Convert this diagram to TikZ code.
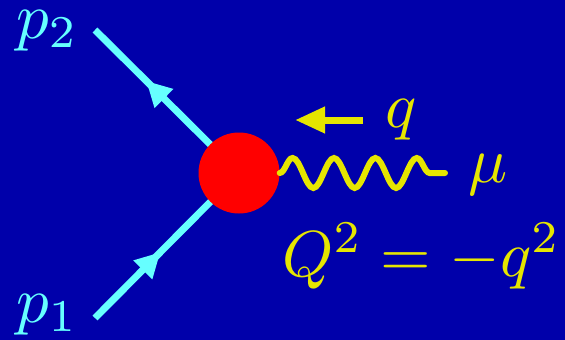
\documentclass[tikz,border=0pt]{standalone}
\usetikzlibrary{arrows.meta,decorations.markings,decorations.pathmorphing}
\definecolor{bgblue}{RGB}{0,0,170}
\definecolor{lcyan}{RGB}{102,255,255}
\definecolor{dyellow}{RGB}{230,230,0}
\begin{document}
\begin{tikzpicture}[x=1pt,y=-1pt,
  fermion/.style={draw=lcyan,line width=7pt,postaction={decorate},
    decoration={markings,mark=at position #1 with {\arrow{Triangle[length=25pt,width=25pt,fill=lcyan,color=lcyan]}}}},
  vertex/.style={circle,fill=red,minimum size=81pt,inner sep=0pt},
  photon/.style={draw=dyellow,line width=6pt,line cap=round,decorate,
    decoration={snake,segment length=41.375pt,amplitude=15pt,pre length=0pt,post length=0pt}},
  momarrow/.style={draw=dyellow,line width=7pt,-{Triangle[length=30pt,width=25pt]}},
  cyanlbl/.style={text=lcyan,anchor=base west,inner sep=0pt,scale=6.5},
  yellbl/.style={text=dyellow,anchor=base west,inner sep=0pt,scale=6.5}]
\useasboundingbox (0,0) rectangle (565,340);
\fill[bgblue] (0,0) rectangle (565,340);
\coordinate (c) at (239,173);
\coordinate (p1end) at (95,318);
\coordinate (p2end) at (95,30);
\coordinate (wend) at (445,173);
\coordinate (qs) at (363,120);
\coordinate (qe) at (295,120);
\path[fermion=0.454] (p1end) -- (c);
\path[fermion=0.644] (c) -- (p2end);
\node[vertex] (v) at (c) {};
\path[photon] (v.east) -- (wend);
\path[momarrow] (qs) -- (qe);
\node[cyanlbl] (lp2) at (15,38) {$p_2$};
\node[cyanlbl] (lp1) at (15,322) {$p_1$};
\node[yellbl] (lq) at (384,127) {$q$};
\node[yellbl] (lmu) at (467,182) {$\mu$};
\node[yellbl] (lQ) at (281,276) {$Q^2=-q^2$};
\end{tikzpicture}
\end{document}
